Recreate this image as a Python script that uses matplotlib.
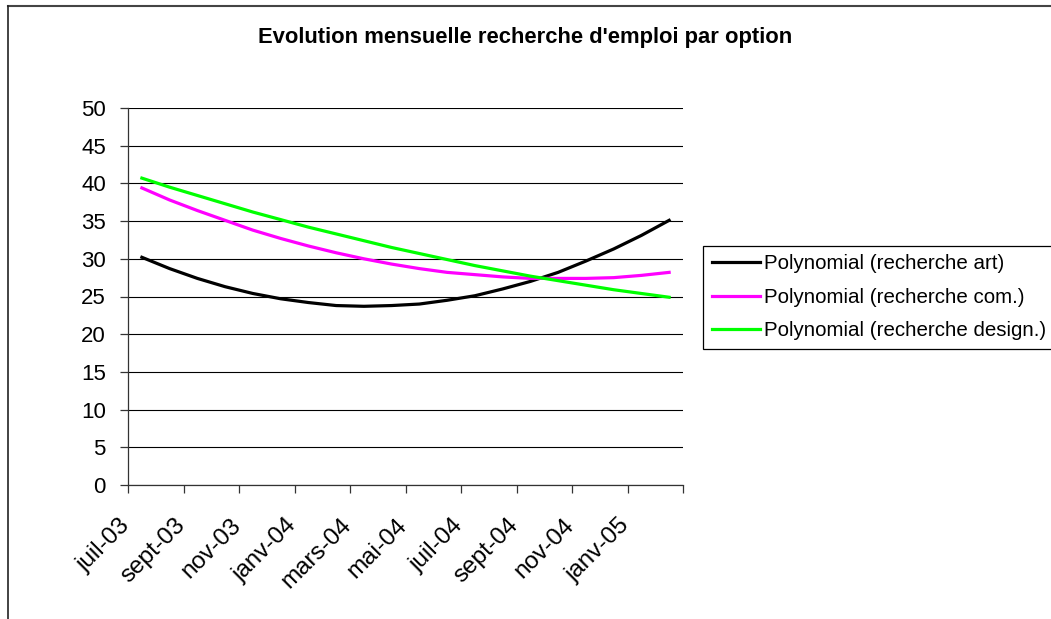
import numpy as np
import matplotlib
matplotlib.use("Agg")
import matplotlib.pyplot as plt
from matplotlib.lines import Line2D
from matplotlib.transforms import ScaledTranslation

plt.rcParams['font.family'] = ['Liberation Sans', 'DejaVu Sans']

# mois depuis juil-03 (0 = juil-03 ... 19 = févr-05)
mois = np.arange(20)

# courbes de tendance polynomiales
art = [30.2, 28.7, 27.4, 26.3, 25.4, 24.7, 24.2, 23.8, 23.7, 23.8,
       24.0, 24.5, 25.1, 26.0, 27.0, 28.2, 29.7, 31.3, 33.1, 35.1]
com = [39.4, 37.8, 36.4, 35.1, 33.8, 32.7, 31.7, 30.8, 30.0, 29.3,
       28.7, 28.2, 27.9, 27.6, 27.4, 27.4, 27.4, 27.5, 27.8, 28.2]
design = [40.7, 39.5, 38.4, 37.3, 36.2, 35.2, 34.2, 33.3, 32.4, 31.5,
          30.7, 29.9, 29.1, 28.4, 27.7, 27.1, 26.5, 25.9, 25.4, 24.9]

etiquettes = ["juil-03", "sept-03", "nov-03", "janv-04", "mars-04",
              "mai-04", "juil-04", "sept-04", "nov-04", "janv-05", ""]

W, H = 1051, 619
fig = plt.figure(figsize=(W / 100, H / 100), dpi=100)
ax = fig.add_axes([128 / W, 1 - 485 / H, (683 - 128) / W, (485 - 108) / H])

ax.plot(mois, art, color='black', lw=2.3, label='Polynomial (recherche art)')
ax.plot(mois, com, color='#ff00ff', lw=2.3, label='Polynomial (recherche com.)')
ax.plot(mois, design, color='#00ff00', lw=2.3, label='Polynomial (recherche design.)')

ax.set_xlim(-0.5, 19.5)
ax.set_ylim(0, 50)
ax.set_yticks(np.arange(0, 51, 5))
ax.set_xticks(np.arange(-0.5, 20, 2))
ax.set_xticklabels(etiquettes, rotation=45, ha='right')

ax.grid(axis='y', color='black', lw=0.8)
ax.set_axisbelow(True)
for s in ['top', 'right']:
    ax.spines[s].set_visible(False)
for s in ['left', 'bottom']:
    ax.spines[s].set_color('#333333')
    ax.spines[s].set_linewidth(0.9)
ax.tick_params(axis='y', labelsize=16, length=6, width=0.9, pad=10, color='#333333')
ax.tick_params(axis='x', labelsize=17.5, length=6, width=0.9, pad=15, color='#333333')

# décale un peu les étiquettes vers la droite
decal = ScaledTranslation(4.5 / 72, 0, fig.dpi_scale_trans)
for lab in ax.get_xticklabels():
    lab.set_transform(lab.get_transform() + decal)

fig.text(525 / W, 1 - 38 / H, "Evolution mensuelle recherche d'emploi par option",
         ha='center', va='center', fontsize=15.8, fontweight='bold')

leg = ax.legend(loc='upper left', bbox_to_anchor=(703.3 / W, 1 - 245.7 / H),
                bbox_transform=fig.transFigure, borderaxespad=0, fontsize=14.8,
                fancybox=False, edgecolor='black', framealpha=1,
                handlelength=2.35, handletextpad=0.18, labelspacing=0.7,
                borderpad=0.42)
leg.get_frame().set_linewidth(0.9)

# cadre du graphique
fig.add_artist(Line2D([8 / W, 1], [1 - 5.5 / H, 1 - 5.5 / H], color='#444444', lw=1.5,
                      transform=fig.transFigure))
fig.add_artist(Line2D([8 / W, 8 / W], [0, 1 - 5.5 / H], color='#222222', lw=1.2,
                      transform=fig.transFigure))

fig.savefig('out.png', dpi=100)
